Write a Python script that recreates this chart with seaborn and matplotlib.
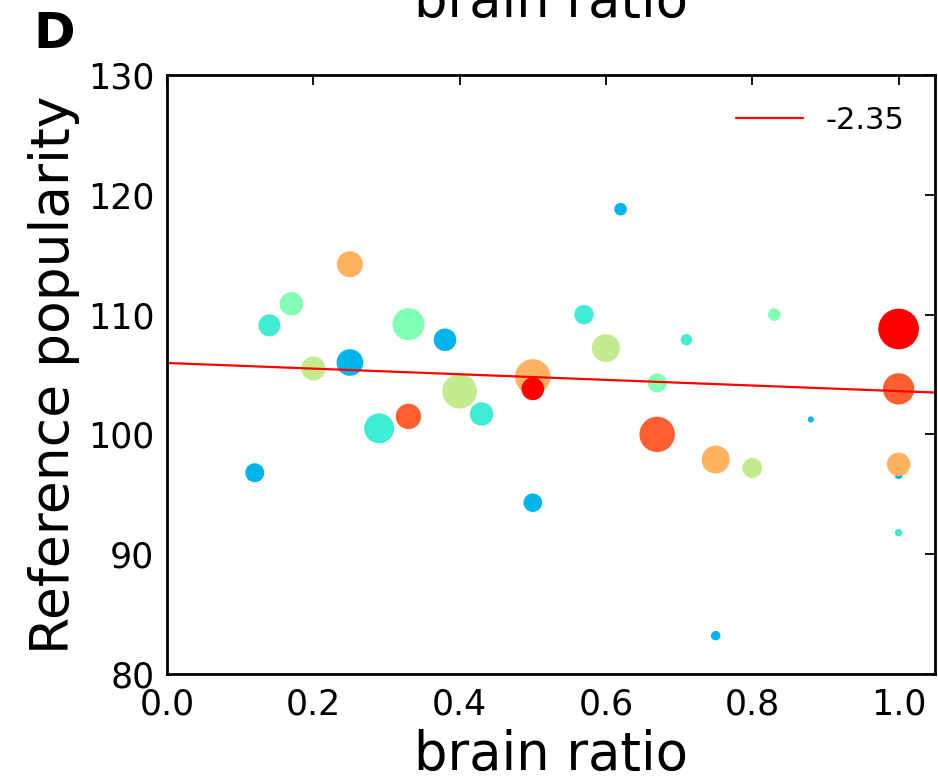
import numpy as np
import pandas as pd
import matplotlib
matplotlib.use("Agg")
import matplotlib.pyplot as plt
import seaborn as sns

# ---- data ----
brain_ratio = [0.62, 0.57, 0.83, 0.71, 0.60, 0.67, 1.00, 0.88, 0.67, 0.75,
               0.80, 1.00, 1.00, 0.75, 1.00, 0.50, 0.25, 0.17, 0.14, 0.33,
               0.38, 0.20, 0.25, 0.50, 0.50, 0.40, 0.43, 0.33, 0.29, 0.12,
               1.00]
popularity = [118.8, 110.0, 110.0, 107.9, 107.2, 104.3, 103.8, 101.25, 100.0, 97.9,
              97.2, 96.6, 97.5, 83.2, 91.8, 94.3, 114.2, 110.9, 109.1, 109.2,
              107.9, 105.5, 106.0, 104.8, 103.8, 103.6, 101.7, 101.5, 100.5, 96.8,
              108.8]
level = [2, 3, 4, 3, 5, 4, 7, 2, 7, 6,
         5, 2, 6, 2, 3, 2, 6, 4, 3, 4,
         2, 5, 2, 6, 8, 5, 3, 7, 3, 2,
         8]
marker_area = [82, 195, 82, 67, 406, 187, 511, 19, 650, 406,
               207, 33, 284, 46, 28, 179, 350, 284, 251, 531,
               265, 299, 367, 650, 265, 621, 284, 334, 467, 187,
               855]
fit_slope = -2.35
fit_intercept = 105.96
slope_label = "-2.35"

x_ticks = [0.0, 0.2, 0.4, 0.6, 0.8, 1.0]
y_ticks = [80, 90, 100, 110, 120, 130]

df = pd.DataFrame({"brain ratio": brain_ratio, "popularity": popularity,
                   "level": level, "area": marker_area})

sns.set_style("white")
plt.rcParams["font.family"] = ["DejaVu Sans"]
plt.rcParams["text.color"] = "black"
plt.rcParams["axes.labelcolor"] = "black"
plt.rcParams["xtick.color"] = "black"
plt.rcParams["ytick.color"] = "black"

fig = plt.figure(figsize=(9.38, 7.81), dpi=100)
ax = fig.add_axes([0.178, 0.137, 0.819, 0.767])

sns.scatterplot(data=df, x="brain ratio", y="popularity", hue="level",
                palette="rainbow", hue_norm=(0, 8), size="area",
                sizes=(min(marker_area), max(marker_area)),
                size_norm=(min(marker_area), max(marker_area)),
                linewidth=0, edgecolor="none", alpha=1.0, legend=False, ax=ax)

ax.set_xlim(0, 1.05)
ax.set_ylim(80, 130)
xs = np.array(ax.get_xlim())
ax.plot(xs, fit_intercept + fit_slope * xs, color="red", lw=1.6, label=slope_label)

ax.set_xticks(x_ticks)
ax.set_xticklabels([f"{t:.1f}" for t in x_ticks])
ax.set_yticks(y_ticks)
ax.tick_params(direction="in", length=7, width=1.3, top=True, right=True,
               labelsize=25, colors="black")
ax.tick_params(axis="x", pad=10)
ax.tick_params(axis="y", pad=9)
for sp in ax.spines.values():
    sp.set_linewidth(2)
    sp.set_color("black")
    sp.set_visible(True)

ax.set_xlabel("brain ratio", fontsize=38, labelpad=5, color="black")
ax.set_ylabel("Reference popularity", fontsize=38.5, labelpad=6, color="black")
ax.set_title("brain ratio", fontsize=38, pad=42, color="black")

leg = ax.legend(loc="upper right", frameon=False, fontsize=22,
                handlelength=2.2, handletextpad=0.75, borderaxespad=0.6)
for t in leg.get_texts():
    t.set_color("black")

fig.text(33 / 938, 1 - 48 / 781, "D", fontsize=36, fontweight="bold",
         va="baseline", ha="left", color="black")

fig.savefig("out.png", dpi=100)
